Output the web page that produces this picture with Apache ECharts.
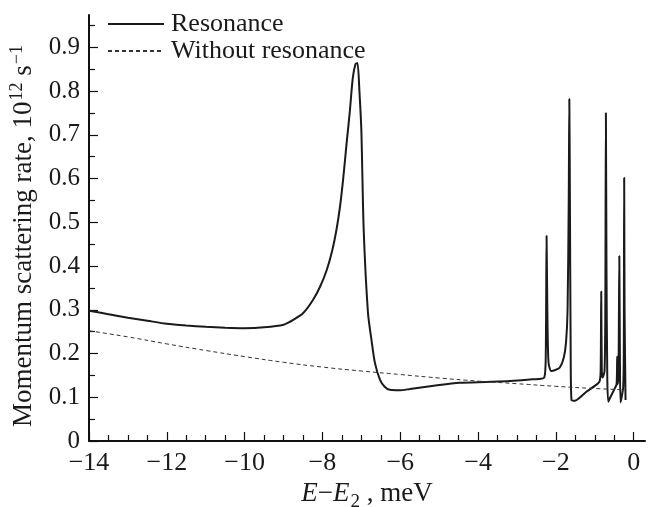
<!DOCTYPE html>
<html>
<head>
<meta charset="utf-8">
<script src="https://cdn.jsdelivr.net/npm/echarts@6/dist/echarts.min.js"></script>
<style>
html,body{margin:0;padding:0;background:#fff;}
#c{width:658px;height:507px;}
</style>
</head>
<body>
<div id="c"></div>
<script>
// Energy E - E2 (meV) and momentum scattering rate (10^12 s^-1)
var resE = [-14,-13.5,-13,-12.5,-12,-11.5,-11,-10.5,-10,-9.5,-9,-8.75,-8.5,-8.24,-8.05,-7.89,-7.75,-7.64,-7.55,-7.47,-7.38,-7.30,-7.22,-7.15,-7.10,-7.05,-7.00,-6.94,-6.83,-6.74,-6.65,-6.52,-6.40,-6.27,-6.0,-5.75,-5.0,-4.47,-3.8,-3.18,-2.6,-2.30,-2.26,-2.24,-2.22,-2.19,-2.12,-2.0,-1.90,-1.80,-1.74,-1.70,-1.67,-1.655,-1.64,-1.62,-1.60,-1.51,-1.35,-1.21,-1.0,-0.88,-0.85,-0.835,-0.82,-0.80,-0.75,-0.73,-0.715,-0.70,-0.68,-0.655,-0.6,-0.5,-0.44,-0.425,-0.41,-0.39,-0.37,-0.355,-0.34,-0.3,-0.27,-0.255,-0.245,-0.235,-0.21];
var resV = [0.298,0.290,0.282,0.275,0.268,0.264,0.261,0.259,0.258,0.260,0.266,0.277,0.292,0.323,0.355,0.391,0.435,0.483,0.535,0.597,0.68,0.75,0.83,0.862,0.864,0.80,0.71,0.483,0.293,0.231,0.178,0.140,0.124,0.117,0.116,0.119,0.128,0.133,0.135,0.137,0.141,0.145,0.20,0.469,0.30,0.18,0.160,0.163,0.168,0.19,0.225,0.30,0.55,0.782,0.55,0.2,0.094,0.092,0.102,0.113,0.126,0.136,0.16,0.342,0.16,0.145,0.16,0.3,0.75,0.4,0.15,0.09,0.10,0.118,0.13,0.193,0.13,0.16,0.423,0.2,0.088,0.105,0.124,0.2,0.602,0.3,0.094];
var noResE = [-14,-13,-12,-11,-10,-9,-8,-7,-6,-5,-4,-3,-2,-1,-0.2];
var noResV = [0.252,0.238,0.222,0.207,0.193,0.180,0.169,0.160,0.152,0.144,0.137,0.131,0.125,0.120,0.117];
var xMajor = [-14,-12,-10,-8,-6,-4,-2,0];
var yMajor = [0,0.1,0.2,0.3,0.4,0.5,0.6,0.7,0.8,0.9];
var seriesNames = ['Resonance','Without resonance'];

function zip(a,b){var o=[];for(var i=0;i<a.length;i++)o.push([a[i],b[i]]);return o;}
var FONT = 'Liberation Serif';
var TXT = '#1a1a1a';
function xfmt(v){ if (Math.abs(v) < 1e-9) return '0'; return v < 0 ? '\u2212' + Math.abs(v) : String(v); }
function yfmt(v){ if (Math.abs(v) < 1e-9) return '0'; return v.toFixed(1); }

var XMIN = -14, XMAX = 0.29, YMIN = 0, YMAX = 0.974;
var chart = echarts.init(document.getElementById('c'), null, {renderer:'canvas'});
chart.setOption({
  animation:false,
  backgroundColor:'#fff',
  grid:{left:89,right:13,top:15,bottom:66,containLabel:false,outerBoundsMode:'none'},
  legend:{
    orient:'vertical', left:102, top:6, itemWidth:56, itemHeight:14, itemGap:1,
    itemStyle:{opacity:0},
    textStyle:{fontFamily:FONT,fontSize:26,lineHeight:26,color:TXT,padding:[0,0,0,2]},
    data:[{name:seriesNames[0]},{name:seriesNames[1]}]
  },
  xAxis:{
    type:'value', min:XMIN, max:XMAX, interval:2,
    axisLine:{show:true,onZero:false,lineStyle:{color:'#111',width:2}},
    axisTick:{show:true,inside:true,length:9,lineStyle:{color:'#111',width:1.2},customValues:xMajor},
    minorTick:{show:true,splitNumber:4,length:6,lineStyle:{color:'#111',width:1.2}},
    axisLabel:{show:true,customValues:xMajor,formatter:xfmt,fontFamily:FONT,fontSize:26,color:TXT,margin:9},
    splitLine:{show:false}, minorSplitLine:{show:false},
    name:'{i|E}{n|\u2212}{i|E}{s|2}{n| , meV}', nameLocation:'middle', nameGap:33,
    nameTextStyle:{fontFamily:FONT,fontSize:27,color:TXT,
      rich:{i:{fontFamily:FONT,fontSize:27,fontStyle:'italic',color:TXT},
            n:{fontFamily:FONT,fontSize:27,color:TXT},
            s:{fontFamily:FONT,fontSize:19,color:TXT,padding:[16,0,0,1]}}}
  },
  yAxis:{
    type:'value', min:YMIN, max:YMAX, interval:0.1,
    axisLine:{show:true,onZero:false,lineStyle:{color:'#111',width:2}},
    axisTick:{show:true,inside:true,length:9,lineStyle:{color:'#111',width:1.2},customValues:yMajor},
    minorTick:{show:true,splitNumber:2,length:6,lineStyle:{color:'#111',width:1.2}},
    axisLabel:{show:true,customValues:yMajor,formatter:yfmt,fontFamily:FONT,fontSize:25,color:TXT,margin:9},
    splitLine:{show:false}, minorSplitLine:{show:false},
    name:'{n|Momentum scattering rate, 10}{p|12}{n| s}{p|\u22121}', nameLocation:'middle', nameGap:41, nameRotate:90,
    nameTextStyle:{fontFamily:FONT,fontSize:27,color:TXT,padding:[0,16,0,0],
      rich:{n:{fontFamily:FONT,fontSize:27,color:TXT},
            p:{fontFamily:FONT,fontSize:18,color:TXT,padding:[0,0,14,1]}}}
  },
  series:[{
    name:seriesNames[0], type:'line',
    data:zip(resE,resV), showSymbol:false, symbol:'none', smooth:0.25,
    lineStyle:{color:'#1a1a1a',width:2}, itemStyle:{color:'#1a1a1a'}
  },{
    name:seriesNames[1], type:'line',
    data:zip(noResE,noResV), showSymbol:false, symbol:'none', smooth:true,
    lineStyle:{color:'#333',width:1,type:[4,3]}, itemStyle:{color:'#333'}
  }]
});
</script>
</body>
</html>
